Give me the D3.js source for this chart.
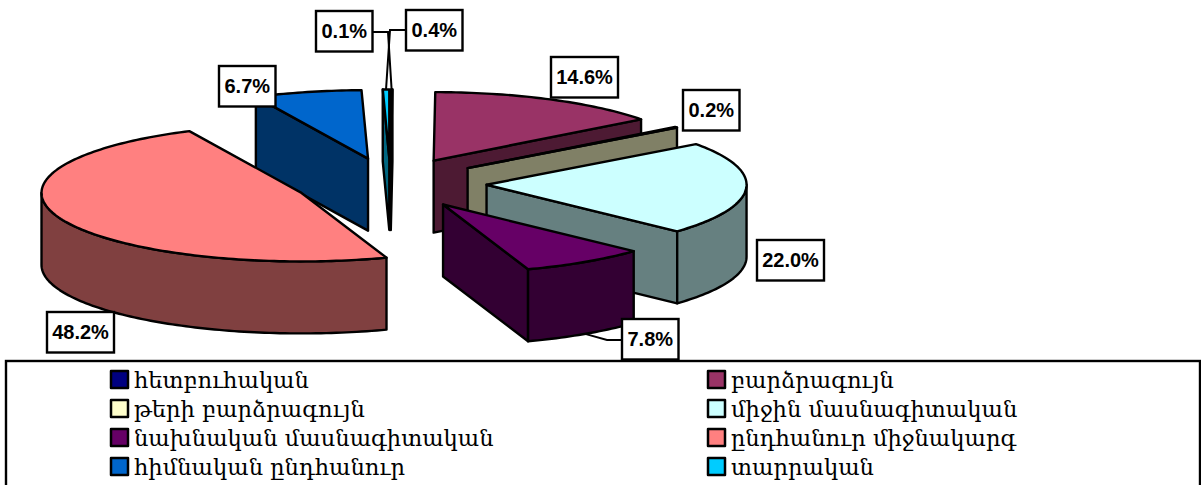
<!DOCTYPE html>
<html>
<head>
<meta charset="utf-8">
<script src="https://cdn.jsdelivr.net/npm/d3@7"></script>
<style>
    html, body { margin: 0; padding: 0; background: #fff; overflow: hidden; }
    svg { display: block; }
</style>
</head>
<body>
<div id="chart"></div>
<script>
// Data, clockwise from 12 o'clock
const categories = ['հետբուհական', 'բարձրագույն', 'թերի բարձրագույն', 'միջին մասնագիտական',
    'նախնական մասնագիտական', 'ընդհանուր միջնակարգ', 'հիմնական ընդհանուր', 'տարրական'];
const values = [0.1, 14.6, 0.2, 22.0, 7.8, 48.2, 6.7, 0.4];
const topColors = ['#000080', '#993366', '#FFFFCC', '#CCFFFF', '#660066', '#FF8080', '#0066CC', '#00CCFF'];

// Layout of the label boxes: left, top (same order as values)
const labelPos = [[316, 11], [551, 57], [683, 90], [757, 240], [622, 319], [47, 312], [219, 66], [406, 10]];

const width = 1201;
const height = 485;
const cx = 390.5, cy = 183.3;   // pie centre before the slices are pulled out
const rx = 260, ry = 68.5;      // ellipse of the tilted pie
const explode = 0.37;
const depth = 72;

const svg = d3.select('#chart').append('svg')
    .attr('width', width)
    .attr('height', height)
    .attr('viewBox', `0 0 ${width} ${height}`);

const total = d3.sum(values);
const angle = d3.scaleLinear().domain([0, total]).range([0, 2 * Math.PI]);

const arcs = d3.pie().sort(null).value(d => d)
    .startAngle(angle(0)).endAngle(angle(total))(values);

function project(a, r) {
    return [Math.sin(a) * r * rx, -Math.cos(a) * r * ry];
}

const slices = arcs.map((d, i) => {
    const mid = (d.startAngle + d.endAngle) / 2;
    const off = project(mid, explode);
    return { i, a0: d.startAngle, a1: d.endAngle, mid, x: cx + off[0], y: cy + off[1] };
});

const line = d3.line();

function rimPoints(s, a0, a1) {
    const n = Math.max(2, Math.ceil((a1 - a0) / 0.02));
    return d3.range(n + 1).map(k => {
        const p = project(a0 + (a1 - a0) * k / n, 1);
        return [s.x + p[0], s.y + p[1]];
    });
}

function darker(c) {
    const q = d3.rgb(c);
    return d3.rgb(q.r / 2, q.g / 2, q.b / 2).formatHex();
}

function facePath(g, pts, fill) {
    g.append('path')
        .attr('d', line(pts) + 'Z')
        .attr('fill', fill)
        .attr('stroke', '#000')
        .attr('stroke-width', 2.4)
        .attr('stroke-linejoin', 'round');
}

// Back slices first, the two slivers at the top go last index first
const drawOrder = slices.slice().sort((a, b) =>
    d3.ascending(Math.round(a.y), Math.round(b.y)) || b.i - a.i);
const pieG = svg.append('g');

drawOrder.forEach(s => {
    const g = pieG.append('g');
    const top = topColors[s.i];
    const side = darker(top);

    // side walls facing the viewer
    [s.a0, s.a1].forEach((a, k) => {
        const visible = k === 0 ? Math.sin(a) < 0 : Math.sin(a) > 0;
        if (!visible) return;
        const p = project(a, 1);
        facePath(g, [[s.x, s.y], [s.x + p[0], s.y + p[1]],
            [s.x + p[0], s.y + p[1] + depth], [s.x, s.y + depth]], side);
    });

    // outer rim, only the front half of the ellipse shows
    const f0 = Math.max(s.a0, Math.PI / 2);
    const f1 = Math.min(s.a1, 3 * Math.PI / 2);
    if (f1 > f0) {
        const upper = rimPoints(s, f0, f1);
        const lower = upper.map(p => [p[0], p[1] + depth]).reverse();
        facePath(g, upper.concat(lower), side);
    }

    // top face
    facePath(g, [[s.x, s.y]].concat(rimPoints(s, s.a0, s.a1)), top);
});

// Leader lines
function leader(i, pts, drop) {
    const s = slices[i];
    const p = project(s.mid, 1);
    svg.append('path')
        .attr('d', line(pts.concat([[s.x + p[0], s.y + p[1] + drop]])))
        .attr('fill', 'none')
        .attr('stroke', '#000')
        .attr('stroke-width', 2);
}
leader(0, [[372, 32], [388, 32]], 0);
leader(7, [[406, 30], [390, 30]], 0);
leader(4, [[622, 340], [607, 340]], depth);

// Value labels
const labelG = svg.selectAll('.value-label')
    .data(values)
    .enter()
    .append('g')
    .attr('class', 'value-label')
    .attr('transform', (d, i) => `translate(${labelPos[i][0]},${labelPos[i][1]})`);

labelG.append('rect')
    .attr('width', d => d >= 10 ? 67 : 56.5)
    .attr('height', 40.5)
    .attr('fill', '#fff')
    .attr('stroke', '#000')
    .attr('stroke-width', 2.4);

labelG.append('text')
    .attr('x', d => (d >= 10 ? 67 : 56.5) / 2)
    .attr('y', 27)
    .attr('text-anchor', 'middle')
    .style('font-family', '"Liberation Sans", Arial, sans-serif')
    .style('font-size', '20px')
    .style('font-weight', 'bold')
    .text(d => d.toFixed(1) + '%');

// Legend
svg.append('rect')
    .attr('x', 6)
    .attr('y', 361)
    .attr('width', 1194)
    .attr('height', 140)
    .attr('fill', '#fff')
    .attr('stroke', '#000')
    .attr('stroke-width', 2.4);

const legendX = d3.scalePoint().domain([0, 1]).range([111, 708]);
const legendY = d3.scalePoint().domain([0, 1, 2, 3]).range([371, 458]);

const legendG = svg.selectAll('.legend-item')
    .data(categories)
    .enter()
    .append('g')
    .attr('class', 'legend-item')
    .attr('transform', (d, i) => `translate(${legendX(i % 2)},${legendY(Math.floor(i / 2))})`);

legendG.append('rect')
    .attr('width', 17)
    .attr('height', 17)
    .attr('fill', (d, i) => topColors[i])
    .attr('stroke', '#000')
    .attr('stroke-width', 2.5)
    .attr('stroke-linejoin', 'round');

legendG.append('text')
    .attr('x', 23)
    .attr('y', 17)
    .style('font-family', '"DejaVu Serif", serif')
    .style('font-size', '22.6px')
    .attr('fill', '#000')
    .text(d => d);
</script>
</body>
</html>
